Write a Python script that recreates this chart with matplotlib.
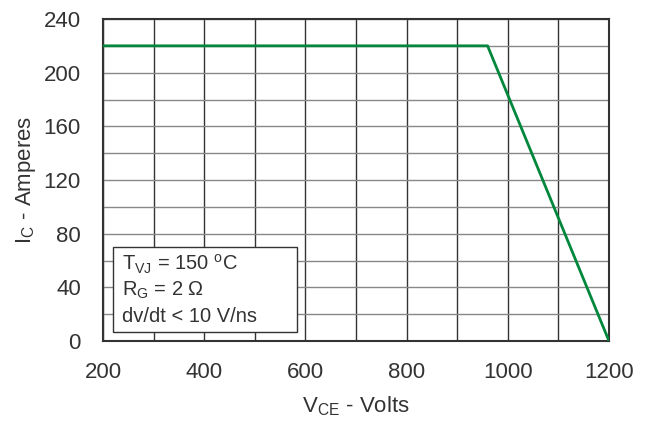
import matplotlib
matplotlib.use('Agg')
import matplotlib.pyplot as plt
from matplotlib.patches import Rectangle

plt.rcParams['font.family'] = ['Liberation Sans', 'DejaVu Sans']
plt.rcParams['mathtext.fontset'] = 'custom'
plt.rcParams['mathtext.rm'] = 'Liberation Sans'

# datos de la curva
vce = [200, 960, 1200]
ic = [220, 220, 0]

xticks = [200, 400, 600, 800, 1000, 1200]
yticks = [0, 40, 80, 120, 160, 200, 240]

condiciones = ['T$_{\\mathrm{VJ}}$ = 150 $^{\\mathrm{o}}$C',
               'R$_{\\mathrm{G}}$ = 2 Ω',
               'dv/dt < 10 V/ns']

texto = '#333333'

fig = plt.figure(figsize=(6.52, 4.25), dpi=100)
ax = fig.add_axes([103/652, 1 - 341/425, 506/652, 322/425])

# rejilla
for x in range(200, 1201, 100):
    ax.axvline(x, color='#333333', lw=1.0, zorder=1)
for y in range(0, 241, 20):
    ax.axhline(y, color='#888888', lw=1.0, zorder=1)

ax.plot(vce, ic, color='#00873c', lw=2, zorder=3)

ax.set_xlim(200, 1200)
ax.set_ylim(0, 240)
ax.set_xticks(xticks)
ax.set_yticks(yticks)
ax.tick_params(length=0, labelsize=16, colors=texto)
ax.tick_params(axis='x', pad=15)
ax.tick_params(axis='y', pad=16)
for s in ax.spines.values():
    s.set_color('#333333')
    s.set_linewidth(1.5)

ax.set_xlabel(r'V$_{\mathrm{CE}}$ - Volts', fontsize=16, color=texto, labelpad=8)
ax.set_ylabel(r'I$_{\mathrm{C}}$ - Amperes', fontsize=16, color=texto, labelpad=4)

# caja de condiciones
ax.add_patch(Rectangle((0.0198, 0.028), 0.363, 0.264, transform=ax.transAxes,
                       fc='white', ec='#333333', lw=1, zorder=5))
for i, c in enumerate(condiciones):
    ax.text(0.0375, 0.2205 - i*0.0808, c, transform=ax.transAxes, fontsize=14.5,
            color=texto, va='baseline', ha='left', zorder=6)

plt.savefig('out.png', dpi=100)
